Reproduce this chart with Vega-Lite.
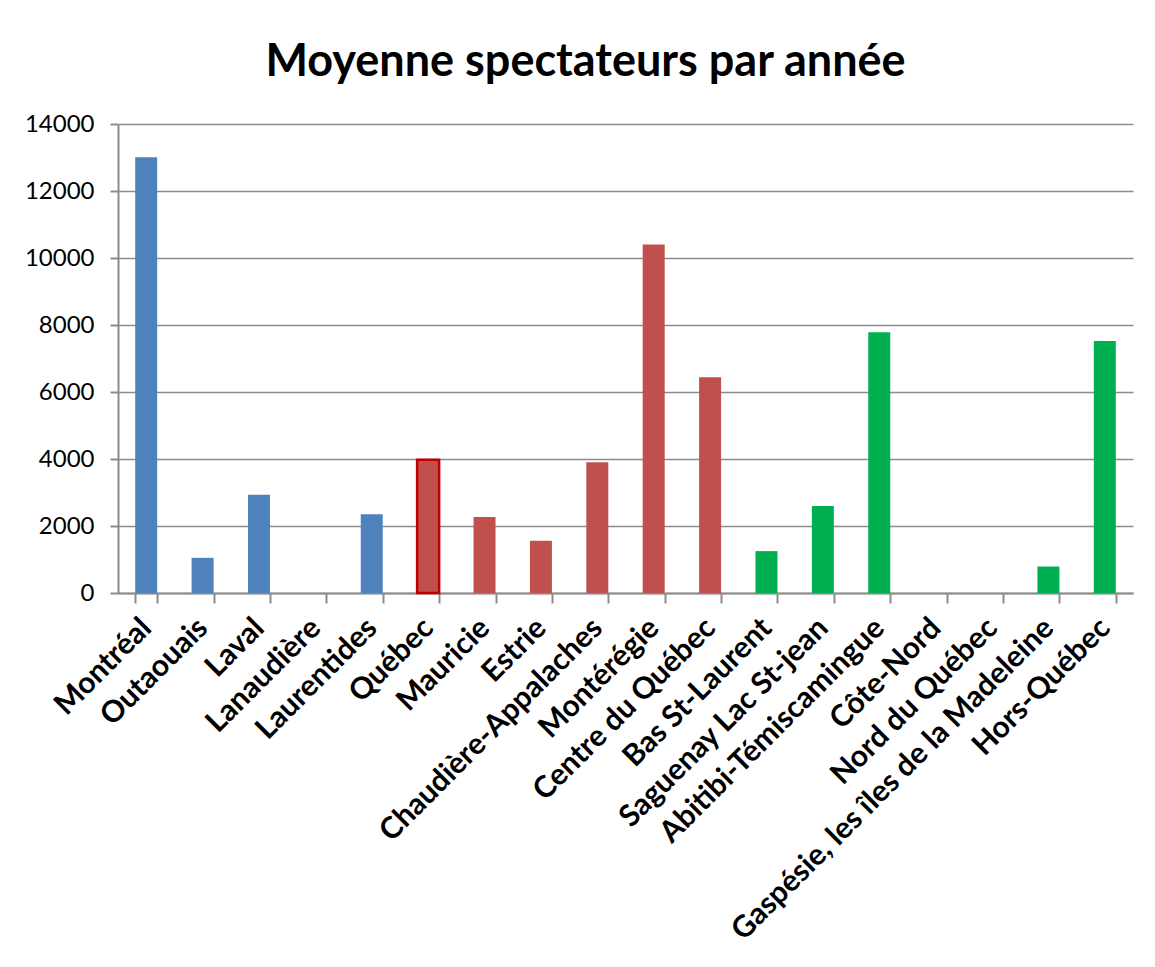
{
  "$schema": "https://vega.github.io/schema/vega-lite/v6.json",
  "autosize": {"type": "none"},
  "width": 1015,
  "height": 469,
  "padding": {"left": 118, "top": 124, "right": 22, "bottom": 374},
  "background": "white",
  "title": {
    "text": "Moyenne spectateurs par année",
    "font": "Lato",
    "fontSize": 45,
    "fontWeight": "bold",
    "color": "#000000",
    "anchor": "middle",
    "dx": -40,
    "offset": 27
  },
  "data": {
    "values": [
      {"region": "Montréal", "groupe": "A", "moyenne": 13010},
      {"region": "Outaouais", "groupe": "A", "moyenne": 1050},
      {"region": "Laval", "groupe": "A", "moyenne": 2930},
      {"region": "Lanaudière", "groupe": "A", "moyenne": 0},
      {"region": "Laurentides", "groupe": "A", "moyenne": 2350},
      {"region": "Québec", "groupe": "B", "moyenne": 3980},
      {"region": "Mauricie", "groupe": "B", "moyenne": 2270},
      {"region": "Estrie", "groupe": "B", "moyenne": 1560},
      {"region": "Chaudière-Appalaches", "groupe": "B", "moyenne": 3900},
      {"region": "Montérégie", "groupe": "B", "moyenne": 10400},
      {"region": "Centre du Québec", "groupe": "B", "moyenne": 6440},
      {"region": "Bas St-Laurent", "groupe": "C", "moyenne": 1250},
      {"region": "Saguenay Lac St-jean", "groupe": "C", "moyenne": 2600},
      {"region": "Abitibi-Témiscamingue", "groupe": "C", "moyenne": 7780},
      {"region": "Côte-Nord", "groupe": "C", "moyenne": 0},
      {"region": "Nord du Québec", "groupe": "C", "moyenne": 0},
      {"region": "Gaspésie, les îles de la Madeleine", "groupe": "C", "moyenne": 790},
      {"region": "Hors-Québec", "groupe": "C", "moyenne": 7520}
    ]
  },
  "mark": {"type": "bar"},
  "encoding": {
    "x": {
      "field": "region",
      "type": "nominal",
      "sort": null,
      "scale": {"paddingInner": 0.61, "paddingOuter": 0.305},
      "axis": {
        "title": null,
        "labelAngle": -45,
        "labelAlign": "right",
        "labelBaseline": "middle",
        "labelFont": "Lato",
        "labelFontSize": 30,
        "labelFontWeight": "bold",
        "labelColor": "#000000",
        "labelPadding": 20,
        "labelLimit": 0,
        "labelOverlap": false,
        "tickBand": "extent",
        "tickSize": 10,
        "tickWidth": 2,
        "tickColor": "#8c8c8c",
        "domainColor": "#8c8c8c",
        "domainWidth": 2,
        "grid": false
      }
    },
    "y": {
      "field": "moyenne",
      "type": "quantitative",
      "scale": {"domain": [0, 14000], "nice": false},
      "axis": {
        "title": null,
        "values": [0, 2000, 4000, 6000, 8000, 10000, 12000, 14000],
        "format": "d",
        "labelFont": "Lato",
        "labelFontSize": 24,
        "labelColor": "#000000",
        "labelPadding": 16,
        "tickSize": 8,
        "tickWidth": 2,
        "tickColor": "#8c8c8c",
        "domainColor": "#8c8c8c",
        "domainWidth": 2,
        "grid": true,
        "gridColor": "#8c8c8c",
        "gridWidth": 1.5
      }
    },
    "color": {
      "field": "groupe",
      "type": "nominal",
      "scale": {"domain": ["A", "B", "C"], "range": ["#4F81BD", "#C0504D", "#00B050"]},
      "legend": null
    },
    "stroke": {
      "condition": {"test": "datum.region === 'Québec'", "value": "#C00000"},
      "value": null
    },
    "strokeWidth": {
      "condition": {"test": "datum.region === 'Québec'", "value": 2.5},
      "value": 0
    }
  },
  "config": {
    "view": {"stroke": null}
  }
}
